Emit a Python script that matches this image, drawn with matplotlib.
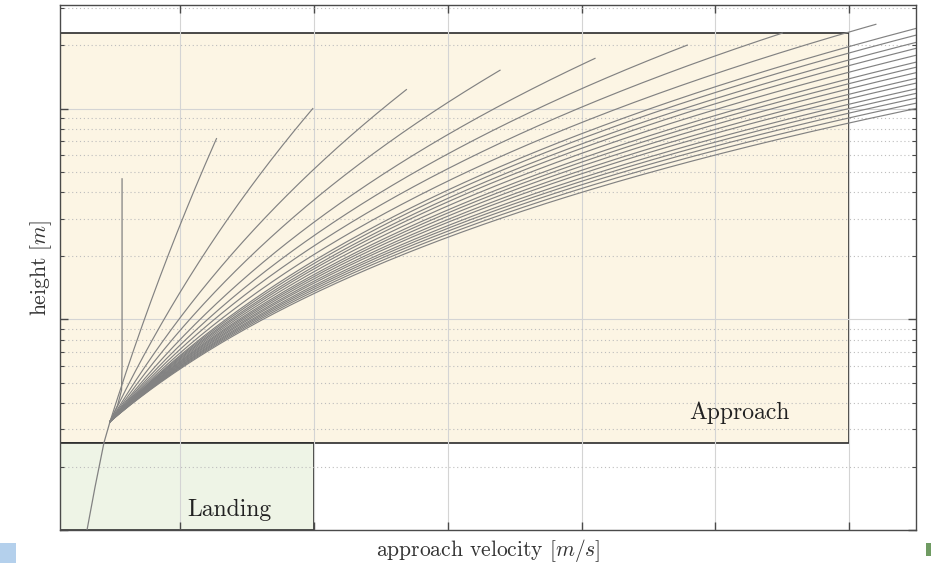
"""
Approach / landing envelope: height over approach velocity for a family of
deceleration profiles that all meet at the touchdown-entry point.
"""

import matplotlib
matplotlib.use('Agg')
import matplotlib.pyplot as plt
from matplotlib.patches import Rectangle
import numpy as np

plt.rcParams.update({
    'font.family': 'cmr10',
    'mathtext.fontset': 'cm',
    'axes.formatter.use_mathtext': True,
    'figure.facecolor': 'white',
    'axes.facecolor': 'white',
})

# === DATA ===
VEL_LIM = (1.0, 65.0)
HEIGHT_LIM = (1.0, 310.0)
VEL_TICKS = [10, 20, 30, 40, 50, 60]

# regions (velocity range, height range)
LANDING_VEL = (1.0, 20.0)
LANDING_HEIGHT = (1.0, 2.6)
APPROACH_VEL = (1.0, 60.0)
APPROACH_HEIGHT = (2.6, 229.0)

# common point where every profile joins the final landing path
JOIN_VEL = 4.74
JOIN_HEIGHT = 3.27
# velocity origin of the profile power law
PROFILE_ORIGIN = -15.0

# final landing path below the join point
landing_path_vel = [3.02, 3.62, 4.29, 4.74]
landing_path_height = [1.00, 1.60, 2.60, 3.27]

# constant-speed descent profile
hover_vel = [4.74, 5.30, 5.60, 5.64, 5.64]
hover_height = [3.27, 3.90, 4.60, 6.00, 46.4]

# remaining profiles: upper end (last 15 leave through the right edge)
end_velocity = [12.7, 19.9, 26.9, 33.9, 41.0, 47.9, 55.0, 62.0,
                65.0, 65.0, 65.0, 65.0, 65.0, 65.0, 65.0, 65.0,
                65.0, 65.0, 65.0, 65.0, 65.0, 65.0, 65.0]
end_height = [72, 100, 123, 152, 173, 200, 228, 251,
              240, 223, 206, 193, 179, 166, 157, 148,
              139, 132, 124, 118, 112, 106, 100]

CURVE_COLOR = '#828282'
GRID_COLOR = '#d4d4d4'
FRAME_COLOR = '#4a4a4a'

fig = plt.figure(figsize=(9.31, 5.63), dpi=100)
ax = fig.add_axes([60 / 931, 1 - 530 / 563, 856 / 931, 525 / 563])

ax.set_yscale('log')
ax.set_xlim(*VEL_LIM)
ax.set_ylim(*HEIGHT_LIM)

# shaded regions
ax.add_patch(Rectangle((APPROACH_VEL[0], APPROACH_HEIGHT[0]),
                       APPROACH_VEL[1] - APPROACH_VEL[0],
                       APPROACH_HEIGHT[1] - APPROACH_HEIGHT[0],
                       facecolor='#fcf5e4', edgecolor='#2b2b2b', linewidth=1.2))
ax.add_patch(Rectangle((LANDING_VEL[0], LANDING_HEIGHT[0]),
                       LANDING_VEL[1] - LANDING_VEL[0],
                       LANDING_HEIGHT[1] - LANDING_HEIGHT[0],
                       facecolor='#eef4e6', edgecolor='#2b2b2b', linewidth=1.2))

# profiles: h = h_join * ((v - v_origin) / (v_join - v_origin)) ** p
ax.plot(landing_path_vel, landing_path_height, color=CURVE_COLOR, lw=0.9)
ax.plot(hover_vel, hover_height, color=CURVE_COLOR, lw=0.9)
base = JOIN_VEL - PROFILE_ORIGIN
for v_end, h_end in zip(end_velocity, end_height):
    p = np.log(h_end / JOIN_HEIGHT) / np.log((v_end - PROFILE_ORIGIN) / base)
    v = np.linspace(JOIN_VEL, v_end, 400)
    ax.plot(v, JOIN_HEIGHT * ((v - PROFILE_ORIGIN) / base) ** p,
            color=CURVE_COLOR, lw=0.85)

ax.text(51.8, 3.6, 'Approach', fontsize=17, ha='center', va='center', color='#222222')
ax.text(13.7, 1.245, 'Landing', fontsize=17, ha='center', va='center', color='#222222')

# grid and ticks
ax.set_xticks(VEL_TICKS)
ax.grid(True, which='major', color=GRID_COLOR, lw=0.8, ls='-')
ax.grid(True, which='minor', axis='y', color='#bdbdbd', lw=0.8, ls=(0, (1, 2.5)))
ax.tick_params(which='both', direction='in', top=True, right=True,
               labelbottom=False, labelleft=False, color=FRAME_COLOR)
ax.tick_params(which='major', length=6, width=1.0)
ax.tick_params(which='minor', length=3, width=0.8)
for s in ax.spines.values():
    s.set_color(FRAME_COLOR)
    s.set_linewidth(1.0)

ax.set_xlabel('approach velocity [$m/s$]', fontsize=15.5, color='#333333', labelpad=5)
ax.set_ylabel('height [$m$]', fontsize=15.5, color='#333333', labelpad=4)

# slide edge marks
fig.patches.append(Rectangle((0, 0), 16 / 931, 20 / 563, transform=fig.transFigure,
                             facecolor='#b4d0ec', edgecolor='none'))
fig.patches.append(Rectangle((926 / 931, 7 / 563), 5 / 931, 13 / 563, transform=fig.transFigure,
                             facecolor='#6f9b62', edgecolor='none'))

fig.savefig('out.png', dpi=100, facecolor='white')
